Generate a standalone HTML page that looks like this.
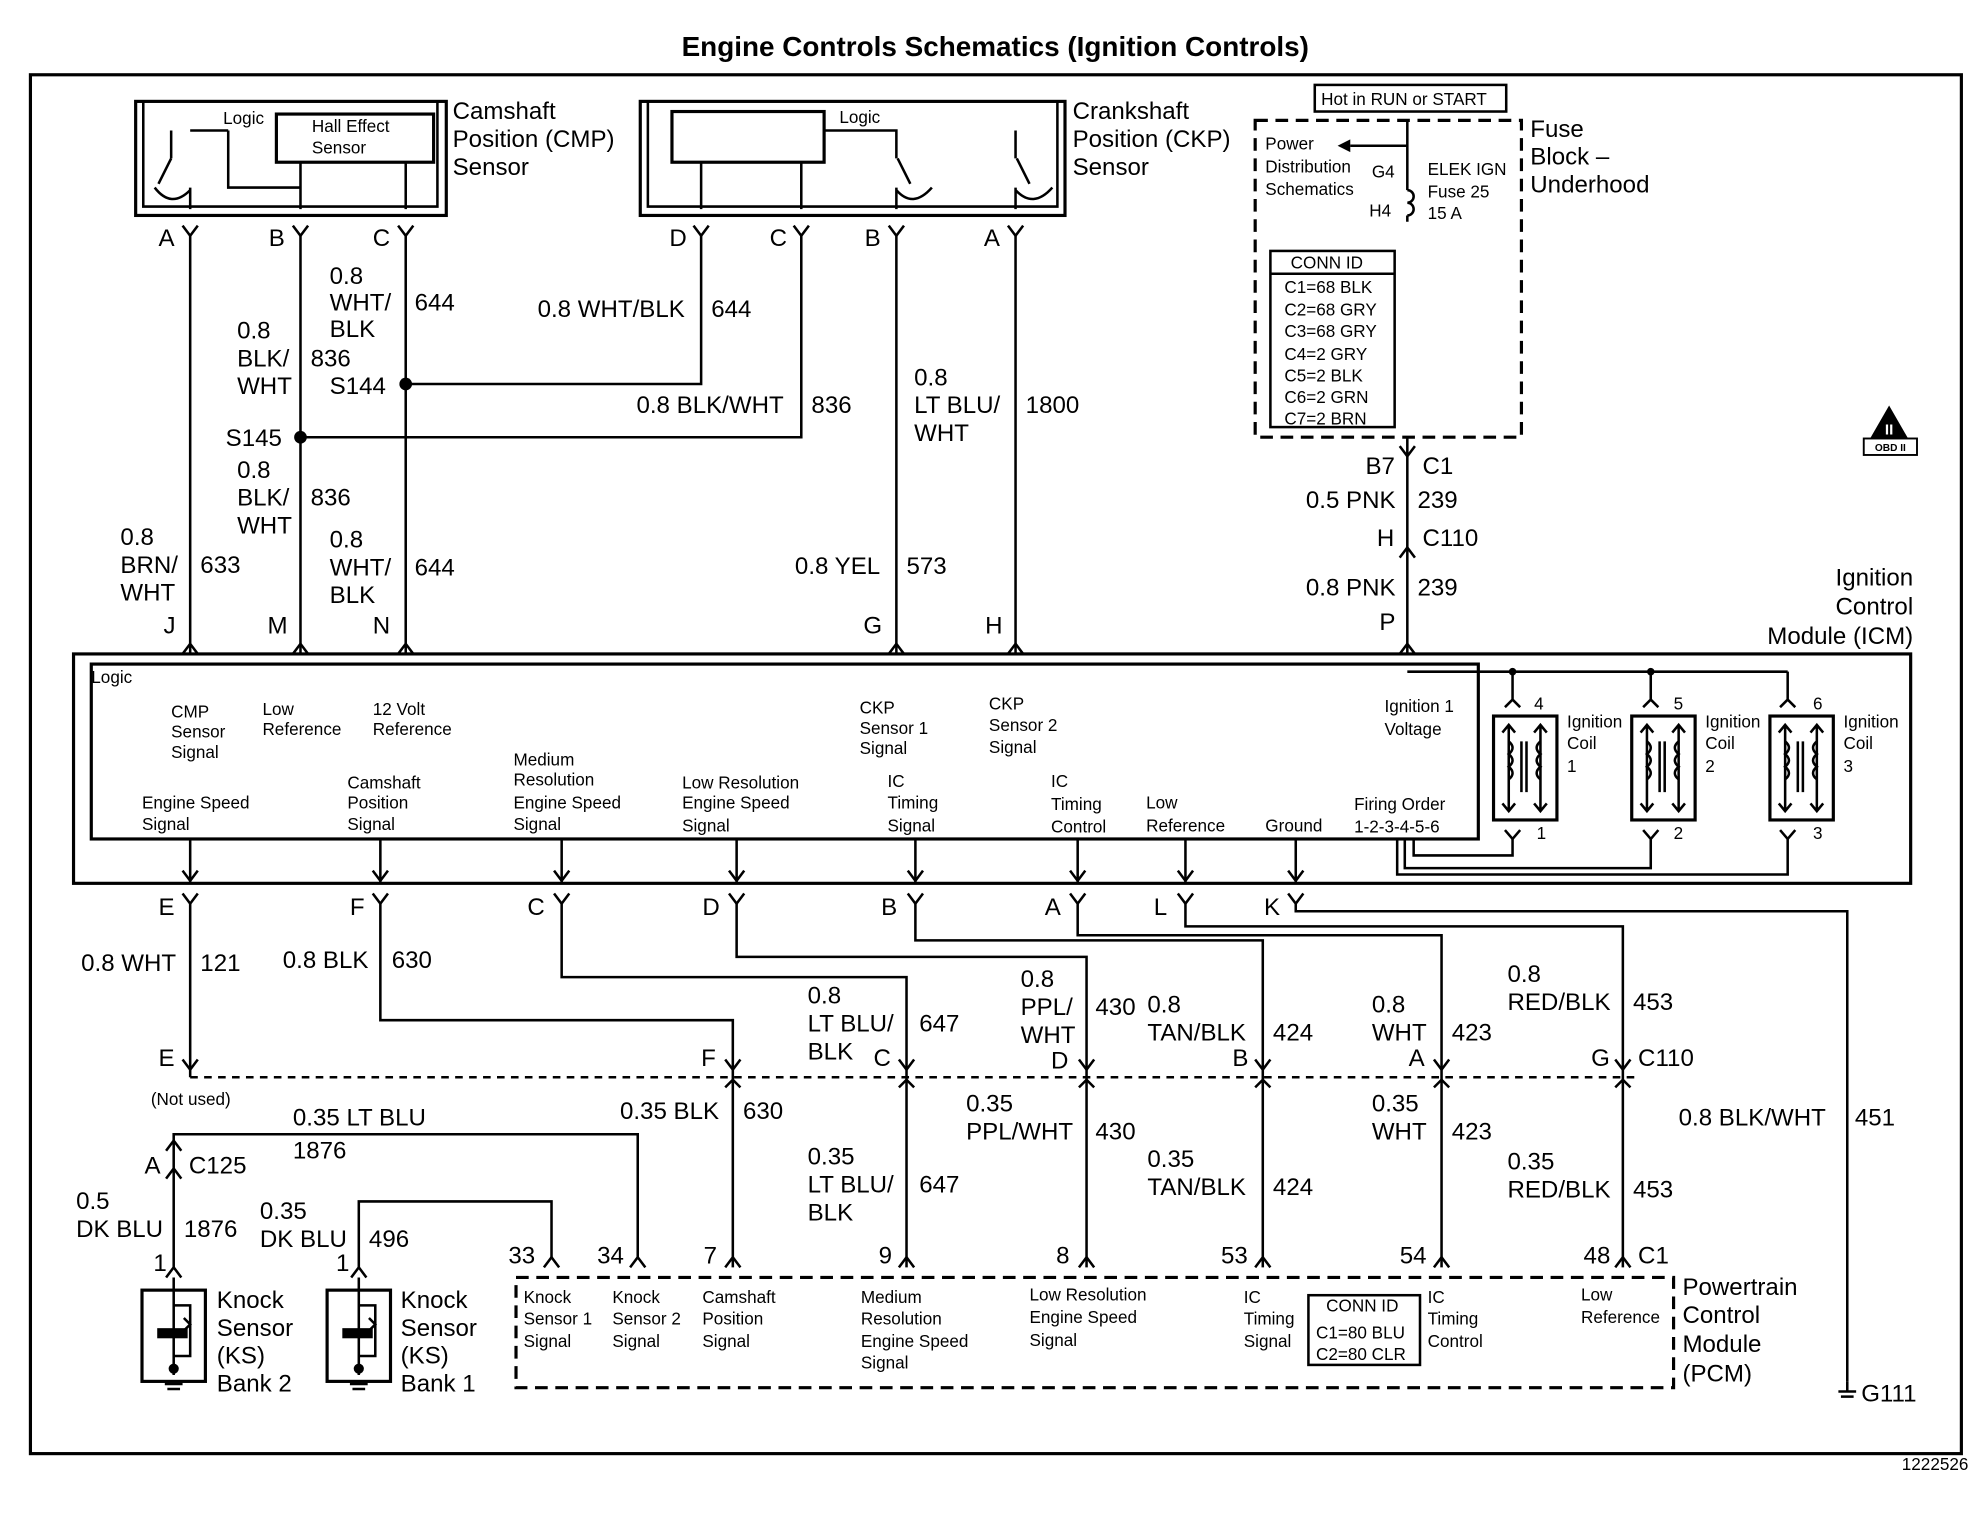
<!DOCTYPE html>
<html><head><style>
html,body{margin:0;padding:0;background:#fff}
svg{display:block}
text{font-family:"Liberation Sans",sans-serif;fill:#000}
.l{font-size:19px}
.s{font-size:13.5px}
</style></head><body>
<svg width="1988" height="1536" viewBox="0 0 1568 1212" preserveAspectRatio="none" xmlns="http://www.w3.org/2000/svg">
<g fill="none" stroke="#000" stroke-width="2">
<rect x="24" y="59" width="1523" height="1088" stroke-width="2.5"/>
<rect x="107" y="80" width="245" height="90" stroke-width="2.5"/>
<path d="M113 80V163H345V80"/>
<rect x="218" y="90" width="124" height="38" stroke-width="2.5"/>
<path d="M180 103V148H237M237 128V165M320 128V165M150 103H180M125 145L135 125M135 103V125M122 148Q135 165 150 150M150 148V165"/>
<rect x="505" y="80" width="335" height="90" stroke-width="2.5"/>
<path d="M511 80V163H834V80"/>
<rect x="530" y="88" width="120" height="40" stroke-width="2.5"/>
<path d="M553 128V165M632 128V165M650 103H707V125M708 125L718 145M801 103V125M802 125L812 145M707 148V165M801 148V165M707 150Q720 165 735 148M801 150Q815 165 830 148"/>
<path d="M144 178L150 186L156 178M231 178L237 186L243 178M314 178L320 186L326 178M547 178L553 186L559 178M626 178L632 186L638 178M701 178L707 186L713 178M795 178L801 186L807 178"/>
<path d="M144 516L150 508L156 516M231 516L237 508L243 516M314 516L320 508L326 516M701 516L707 508L713 516M795 516L801 508L807 516M1104 516L1110 508L1116 516"/>
<path d="M1104 352L1110 360L1116 352M1104 440L1110 432L1116 440"/>
<path d="M1110 150a5 5 0 0 1 0 10a5 5 0 0 1 0 10"/>
<path d="M150 186V516M237 186V516M320 186V516M553 186V303H320M632 186V345H237M707 186V516M801 186V516M1110 345V516M1110 95V150M1110 170V175M1110 360V432"/>
<rect x="990" y="95" width="210" height="250" stroke-dasharray="10,6" stroke-width="2.5"/>
<rect x="1037" y="67" width="151" height="21"/>
<rect x="1002" y="198" width="98" height="139"/>
<path d="M1002 216H1100"/>
<path d="M1110 115H1065"/>
<rect x="58" y="516" width="1449" height="181" stroke-width="2.5"/>
<rect x="72" y="524" width="1094" height="138" stroke-width="2.5"/>
<path d="M150 662V697M300 662V697M443 662V697M581 662V697M722 662V697M850 662V697M935 662V697M1022 662V697"/>
<path d="M144 687L150 695L156 687M294 687L300 695L306 687M437 687L443 695L449 687M575 687L581 695L587 687M716 687L722 695L728 687M844 687L850 695L856 687M929 687L935 695L941 687M1016 687L1022 695L1028 687"/>
<path d="M144 705L150 713L156 705M294 705L300 713L306 705M437 705L443 713L449 705M575 705L581 713L587 705M716 705L722 713L728 705M844 705L850 713L856 705M929 705L935 713L941 705M1016 705L1022 713L1028 705"/>
<path d="M1110 530H1410M1193 530V552M1302 530V552M1410 530V552M1187 558L1193 552L1199 558M1296 558L1302 552L1308 558M1404 558L1410 552L1416 558"/>
<rect x="1178" y="565" width="50" height="82" stroke-width="2.5"/>
<rect x="1287" y="565" width="50" height="82" stroke-width="2.5"/>
<rect x="1396" y="565" width="50" height="82" stroke-width="2.5"/>
<g id="coil">
<path d="M1190 572V640M1215 572V640M1185 578L1190 572L1195 578M1210 578L1215 572L1220 578M1185 634L1190 640L1195 634M1210 634L1215 640L1220 634"/>
<path d="M1190 585q6 5 0 10q6 5 0 10q6 5 0 10M1215 585q-6 5 0 10q-6 5 0 10q-6 5 0 10M1200 585V625M1204 585V625"/>
</g>
<use href="#coil" x="109"/><use href="#coil" x="218"/>
<path d="M1187 655L1193 662L1199 655M1296 655L1302 662L1308 655M1404 655L1410 662L1416 655"/>
<path d="M1193 662V675H1115V662M1302 662V685H1108V662M1410 662V690H1102V662"/>
<path d="M150 713V850M300 713V805H578V1000M443 713V771H715V1000M581 713V755H857V1000M722 713V742H996V1000M850 713V738H1137V1000M935 713V731H1280V1000M1022 713V719H1457V1090"/>
<path d="M150 850H1290" stroke-dasharray="6,5"/>
<path d="M144 836L150 844L156 836M572 836L578 844L584 836M709 836L715 844L721 836M851 836L857 844L863 836M990 836L996 844L1002 836M1131 836L1137 844L1143 836M1274 836L1280 844L1286 836"/>
<path d="M572 858L578 852L584 858M709 858L715 852L721 858M851 858L857 852L863 858M990 858L996 852L1002 858M1131 858L1137 852L1143 858M1274 858L1280 852L1286 858"/>
<path d="M131 908L137 900L143 908M131 930L137 922L143 930"/>
<path d="M429 1000L435 992L441 1000M497 1000L503 992L509 1000M572 1000L578 992L584 1000M709 1000L715 992L721 1000M851 1000L857 992L863 1000M990 1000L996 992L1002 1000M1131 1000L1137 992L1143 1000M1274 1000L1280 992L1286 1000"/>
<path d="M131 1008L137 1000L143 1008M277 1008L283 1000L289 1008"/>
<rect x="407" y="1008" width="913" height="87" stroke-dasharray="10,6" stroke-width="2.5"/>
<rect x="1032" y="1022" width="88" height="55" stroke-width="2"/>
<path d="M137 1000V895H503V992M283 1000V948H435V992"/>
<rect x="112" y="1018" width="50" height="72" stroke-width="2.5"/>
<rect x="258" y="1018" width="50" height="72" stroke-width="2.5"/>
<path d="M137 1008V1085M283 1008V1085M130 1092H144M132 1096H142M276 1092H290M278 1096H288M1450 1098H1464M1452 1102H1462M1457 1090V1098"/>
<path d="M137 1030H150V1070H137M283 1030H296V1070H283M145 1040l5 5l-5 5M291 1040l5 5l-5 5"/>
</g>
<g fill="#000">
<rect x="124" y="1048" width="24" height="8"/><rect x="270" y="1048" width="24" height="8"/>
<circle cx="237" cy="345" r="5"/><circle cx="320" cy="303" r="5"/><circle cx="1193" cy="530" r="3"/><circle cx="1302" cy="530" r="3"/><circle cx="137" cy="1080" r="4"/><circle cx="283" cy="1080" r="4"/>
<path d="M1065 110L1055 115L1065 120Z"/>
<path d="M1475 346L1490 320L1505 346Z"/>
</g>
<rect x="1470" y="346" width="42" height="13" fill="#fff" stroke="#000" stroke-width="1.5"/>
<text x="1491" y="356" text-anchor="middle" font-size="8" font-weight="bold">OBD II</text>
<text x="1490" y="343" text-anchor="middle" font-size="12" font-weight="bold" style="fill:#fff">II</text>
<text x="785" y="44" text-anchor="middle" font-weight="bold" font-size="22">Engine Controls Schematics (Ignition Controls)</text>
<g class="l">
<text x="357" y="94">Camshaft</text><text x="357" y="116">Position (CMP)</text><text x="357" y="138">Sensor</text>
<text x="846" y="94">Crankshaft</text><text x="846" y="116">Position (CKP)</text><text x="846" y="138">Sensor</text>
<text x="1207" y="108">Fuse</text><text x="1207" y="130">Block –</text><text x="1207" y="152">Underhood</text>
<text x="125" y="194">A</text><text x="212" y="194">B</text><text x="294" y="194">C</text><text x="528" y="194">D</text><text x="607" y="194">C</text><text x="682" y="194">B</text><text x="776" y="194">A</text>
<text x="260" y="224">0.8</text><text x="260" y="245">WHT/</text><text x="327" y="245">644</text><text x="260" y="266">BLK</text>
<text x="187" y="267">0.8</text><text x="187" y="289">BLK/</text><text x="245" y="289">836</text><text x="187" y="311">WHT</text><text x="260" y="311">S144</text>
<text x="424" y="250">0.8 WHT/BLK</text><text x="561" y="250">644</text>
<text x="502" y="326">0.8 BLK/WHT</text><text x="640" y="326">836</text>
<text x="721" y="304">0.8</text><text x="721" y="326">LT BLU/</text><text x="809" y="326">1800</text><text x="721" y="348">WHT</text>
<text x="178" y="352">S145</text>
<text x="187" y="377">0.8</text><text x="187" y="399">BLK/</text><text x="245" y="399">836</text><text x="187" y="421">WHT</text>
<text x="95" y="430">0.8</text><text x="95" y="452">BRN/</text><text x="158" y="452">633</text><text x="95" y="474">WHT</text>
<text x="260" y="432">0.8</text><text x="260" y="454">WHT/</text><text x="327" y="454">644</text><text x="260" y="476">BLK</text>
<text x="627" y="453">0.8 YEL</text><text x="715" y="453">573</text>
<text x="1077" y="374">B7</text><text x="1122" y="374">C1</text>
<text x="1030" y="401">0.5 PNK</text><text x="1118" y="401">239</text>
<text x="1086" y="431">H</text><text x="1122" y="431">C110</text>
<text x="1030" y="470">0.8 PNK</text><text x="1118" y="470">239</text>
<text x="1509" y="462" text-anchor="end">Ignition</text><text x="1509" y="485" text-anchor="end">Control</text><text x="1509" y="508" text-anchor="end">Module (ICM)</text>
<text x="129" y="500">J</text><text x="211" y="500">M</text><text x="294" y="500">N</text><text x="681" y="500">G</text><text x="777" y="500">H</text><text x="1088" y="497">P</text>
<text x="125" y="722">E</text><text x="276" y="722">F</text><text x="416" y="722">C</text><text x="554" y="722">D</text><text x="695" y="722">B</text><text x="824" y="722">A</text><text x="910" y="722">L</text><text x="997" y="722">K</text>
<text x="64" y="766">0.8 WHT</text><text x="158" y="766">121</text><text x="223" y="764">0.8 BLK</text><text x="309" y="764">630</text>
<text x="637" y="792">0.8</text><text x="637" y="814">LT BLU/</text><text x="725" y="814">647</text><text x="637" y="836">BLK</text><text x="689" y="841">C</text>
<text x="805" y="779">0.8</text><text x="805" y="801">PPL/</text><text x="864" y="801">430</text><text x="805" y="823">WHT</text><text x="829" y="843">D</text>
<text x="905" y="799">0.8</text><text x="905" y="821">TAN/BLK</text><text x="1004" y="821">424</text><text x="972" y="841">B</text>
<text x="1082" y="799">0.8</text><text x="1082" y="821">WHT</text><text x="1145" y="821">423</text><text x="1111" y="841">A</text>
<text x="1189" y="775">0.8</text><text x="1189" y="797">RED/BLK</text><text x="1288" y="797">453</text><text x="1255" y="841">G</text><text x="1292" y="841">C110</text>
<text x="125" y="841">E</text><text x="553" y="841">F</text>
<text x="231" y="888">0.35 LT BLU</text><text x="231" y="914">1876</text>
<text x="489" y="883">0.35 BLK</text><text x="586" y="883">630</text>
<text x="762" y="877">0.35</text><text x="762" y="899">PPL/WHT</text><text x="864" y="899">430</text>
<text x="1082" y="877">0.35</text><text x="1082" y="899">WHT</text><text x="1145" y="899">423</text>
<text x="1324" y="888">0.8 BLK/WHT</text><text x="1463" y="888">451</text>
<text x="114" y="926">A</text><text x="149" y="926">C125</text>
<text x="637" y="919">0.35</text><text x="637" y="941">LT BLU/</text><text x="725" y="941">647</text><text x="637" y="963">BLK</text>
<text x="905" y="921">0.35</text><text x="905" y="943">TAN/BLK</text><text x="1004" y="943">424</text>
<text x="1189" y="923">0.35</text><text x="1189" y="945">RED/BLK</text><text x="1288" y="945">453</text>
<text x="60" y="954">0.5</text><text x="60" y="976">DK BLU</text><text x="145" y="976">1876</text>
<text x="205" y="962">0.35</text><text x="205" y="984">DK BLU</text><text x="291" y="984">496</text>
<text x="121" y="1003">1</text><text x="265" y="1003">1</text><text x="401" y="997">33</text><text x="471" y="997">34</text><text x="555" y="997">7</text><text x="693" y="997">9</text><text x="833" y="997">8</text><text x="963" y="997">53</text><text x="1104" y="997">54</text><text x="1249" y="997">48</text><text x="1292" y="997">C1</text>
<text x="171" y="1032">Knock</text><text x="171" y="1054">Sensor</text><text x="171" y="1076">(KS)</text><text x="171" y="1098">Bank 2</text>
<text x="316" y="1032">Knock</text><text x="316" y="1054">Sensor</text><text x="316" y="1076">(KS)</text><text x="316" y="1098">Bank 1</text>
<text x="1327" y="1022">Powertrain</text><text x="1327" y="1044">Control</text><text x="1327" y="1067">Module</text><text x="1327" y="1090">(PCM)</text>
<text x="1468" y="1106">G111</text>
</g>
<g class="s">
<text x="176" y="98">Logic</text><text x="246" y="104">Hall Effect</text><text x="246" y="121">Sensor</text><text x="662" y="97">Logic</text>
<text x="1042" y="83">Hot in RUN or START</text>
<text x="998" y="118">Power</text><text x="998" y="136">Distribution</text><text x="998" y="154">Schematics</text>
<text x="1082" y="140">G4</text><text x="1080" y="171">H4</text>
<text x="1126" y="138">ELEK IGN</text><text x="1126" y="156">Fuse 25</text><text x="1126" y="173">15 A</text>
<text x="1018" y="212">CONN ID</text>
<text x="1013" y="231">C1=68 BLK</text><text x="1013" y="249">C2=68 GRY</text><text x="1013" y="266">C3=68 GRY</text><text x="1013" y="284">C4=2 GRY</text><text x="1013" y="301">C5=2 BLK</text><text x="1013" y="318">C6=2 GRN</text><text x="1013" y="335">C7=2 BRN</text>
<text x="72" y="539">Logic</text>
<text x="135" y="566">CMP</text><text x="135" y="582">Sensor</text><text x="135" y="598">Signal</text>
<text x="207" y="564">Low</text><text x="207" y="580">Reference</text>
<text x="294" y="564">12 Volt</text><text x="294" y="580">Reference</text>
<text x="678" y="563">CKP</text><text x="678" y="579">Sensor 1</text><text x="678" y="595">Signal</text>
<text x="780" y="560">CKP</text><text x="780" y="577">Sensor 2</text><text x="780" y="594">Signal</text>
<text x="1092" y="562">Ignition 1</text><text x="1092" y="580">Voltage</text>
<text x="405" y="604">Medium</text><text x="405" y="620">Resolution</text><text x="405" y="638">Engine Speed</text><text x="405" y="655">Signal</text>
<text x="274" y="622">Camshaft</text><text x="274" y="638">Position</text><text x="274" y="655">Signal</text>
<text x="538" y="622">Low Resolution</text><text x="538" y="638">Engine Speed</text><text x="538" y="656">Signal</text>
<text x="112" y="638">Engine Speed</text><text x="112" y="655">Signal</text>
<text x="700" y="621">IC</text><text x="700" y="638">Timing</text><text x="700" y="656">Signal</text>
<text x="829" y="621">IC</text><text x="829" y="639">Timing</text><text x="829" y="657">Control</text>
<text x="904" y="638">Low</text><text x="904" y="656">Reference</text>
<text x="998" y="656">Ground</text>
<text x="1068" y="639">Firing Order</text><text x="1068" y="657">1-2-3-4-5-6</text>
<text x="1236" y="574">Ignition</text><text x="1236" y="591">Coil</text><text x="1236" y="609">1</text>
<text x="1345" y="574">Ignition</text><text x="1345" y="591">Coil</text><text x="1345" y="609">2</text>
<text x="1454" y="574">Ignition</text><text x="1454" y="591">Coil</text><text x="1454" y="609">3</text>
<text x="1210" y="560">4</text><text x="1320" y="560">5</text><text x="1430" y="560">6</text>
<text x="1212" y="662">1</text><text x="1320" y="662">2</text><text x="1430" y="662">3</text>
<text x="119" y="872">(Not used)</text>
<text x="413" y="1028">Knock</text><text x="413" y="1045">Sensor 1</text><text x="413" y="1063">Signal</text>
<text x="483" y="1028">Knock</text><text x="483" y="1045">Sensor 2</text><text x="483" y="1063">Signal</text>
<text x="554" y="1028">Camshaft</text><text x="554" y="1045">Position</text><text x="554" y="1063">Signal</text>
<text x="679" y="1028">Medium</text><text x="679" y="1045">Resolution</text><text x="679" y="1063">Engine Speed</text><text x="679" y="1080">Signal</text>
<text x="812" y="1026">Low Resolution</text><text x="812" y="1044">Engine Speed</text><text x="812" y="1062">Signal</text>
<text x="981" y="1028">IC</text><text x="981" y="1045">Timing</text><text x="981" y="1063">Signal</text>
<text x="1046" y="1035">CONN ID</text><text x="1038" y="1056">C1=80 BLU</text><text x="1038" y="1073">C2=80 CLR</text>
<text x="1126" y="1028">IC</text><text x="1126" y="1045">Timing</text><text x="1126" y="1063">Control</text>
<text x="1247" y="1026">Low</text><text x="1247" y="1044">Reference</text>
<text x="1500" y="1160">1222526</text>
</g>
</svg>
</body></html>
